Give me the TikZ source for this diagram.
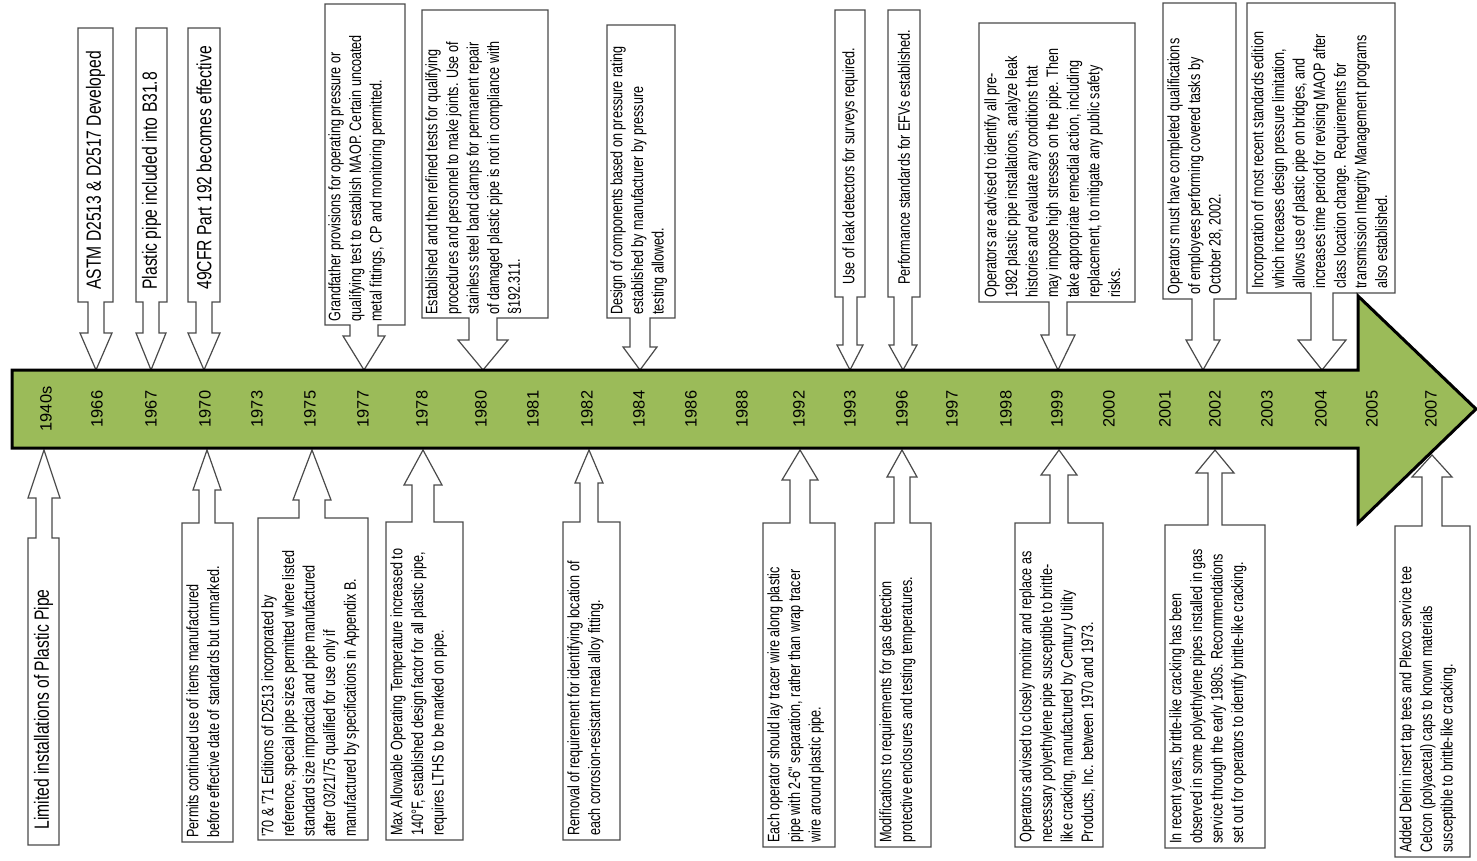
\documentclass[tikz,border=0pt]{standalone}
\usepackage{fontspec}
\setmainfont{Liberation Sans}
\newfontfamily\narrowfont{Liberation Sans}[FakeStretch=0.76]
\usepackage{xcolor}
\definecolor{Olive}{HTML}{9BBB59}
\definecolor{Rim}{HTML}{4A4A4A}
\tikzset{
  callout/.style={draw=Rim,fill=white,line width=0.6pt},
  note/.style={font=\narrowfont\fontsize{8.3}{10.3}\selectfont,rotate=90,
    anchor=north west,align=left,inner sep=0pt},
  onenote/.style={note,anchor=west},
  bignote/.style={font=\narrowfont\fontsize{10.3}{12}\selectfont,rotate=90,
    anchor=west,inner sep=0pt},
  year/.style={font=\fontsize{8.2}{10}\selectfont,rotate=90,inner sep=0pt},
  timebar/.style={fill=Olive,draw=black,line width=1.5pt}
}
\begin{document}
\begin{tikzpicture}[x=0.5pt,y=-0.5pt]
  \useasboundingbox (0,0) rectangle (1477,861);
  \def\ytop{370}
  \foreach \yr/\xl/\xr/\yt/\yb/\xt/\sw/\hw/\yh in {
      1966/78/113/28/302/96/8/16/333,
      1967/136/167/28/302/151/8/15/333,
      1970/188/220/28/302/204/8/16/333,
      1977/325/405/4/325/364/14/21/336,
      1980/422/548/10/318/483/14/25/340,
      1984/607/675/25/318/640/10/17/347,
      1993/835/865/10/297/850/7/13/345,
      1996/888/920/10/297/903/9/14/345,
      1999/979/1135/23/302/1058/9/17/335,
      2002/1163/1236/3/299/1203/11/17/340,
      2004/1247/1395/3/293/1322/11/24/340}{
    \filldraw[callout] (\xl,\yt) -- (\xr,\yt) -- (\xr,\yb) -- (\xt+\sw,\yb)
      -- (\xt+\sw,\yh) -- (\xt+\hw,\yh) -- (\xt,\ytop) -- (\xt-\hw,\yh)
      -- (\xt-\sw,\yh) -- (\xt-\sw,\yb) -- (\xl,\yb) -- cycle;
    \coordinate (top\yr) at (\xl,\yb);
    \coordinate (topmid\yr) at ({(\xl+\xr)/2},\yb);
  }
  \foreach \yr/\xl/\xr/\yt/\yb/\xt/\sw/\hw/\yh/\ytip in {
      1940s/28/59/538/845/44/8/16/498/450,
      1970/182/233/523/842/207/8/14/490/450,
      1975/258/368/518/840/312/13/19/500/450,
      1978/386/463/522/840/423/11/19/485/450,
      1982/563/620/522/840/589/9/14/483/450,
      1992/763/835/523/847/800/10/18/480/450,
      1996/875/931/523/847/902/8/15/477/450,
      1999/1015/1103/523/847/1059/9/18/475/450,
      2002/1165/1265/525/848/1215/7/19/473/450,
      2007/1395/1470/526/857/1432/10/20/477/455}{
    \filldraw[callout] (\xl,\yb) -- (\xl,\yt) -- (\xt-\sw,\yt) -- (\xt-\sw,\yh)
      -- (\xt-\hw,\yh) -- (\xt,\ytip) -- (\xt+\hw,\yh) -- (\xt+\sw,\yh)
      -- (\xt+\sw,\yt) -- (\xr,\yt) -- (\xr,\yb) -- cycle;
    \coordinate (bot\yr) at (\xl,\yb);
    \coordinate (botmid\yr) at ({(\xl+\xr)/2},\yb);
  }
  \filldraw[timebar] (12,370) -- (1358,370) -- (1358,296) -- (1476,409)
    -- (1358,523) -- (1358,448) -- (12,448) -- cycle;
  \foreach \yr/\x in {1940s/46,1966/97,1967/151,1970/205,1973/257,1975/310,
      1977/363,1978/422,1980/481,1981/533,1982/587,1984/639,1986/691,
      1988/742,1992/799,1993/850,1996/902,1997/952,1998/1006,1999/1057,
      2000/1109,2001/1165,2002/1215,2003/1267,2004/1321,2005/1372,2007/1431}
    \node[year] (y\yr) at (\x,409) {\yr};

  \node[bignote] (t1966) at ([shift={(0,-12)}]topmid1966) {ASTM D2513 \& D2517 Developed};
  \node[bignote] (t1967) at ([shift={(0,-12)}]topmid1967) {Plastic pipe included into B31.8};
  \node[bignote] (t1970) at ([shift={(0,-12)}]topmid1970) {49CFR Part 192 becomes effective};
  \node[note] (t1977) at ([shift={(3,-3)}]top1977) {Grandfather provisions for operating pressure or\\
    qualifying test to establish MAOP. Certain uncoated\\metal fittings, CP and monitoring permitted.};
  \node[note] (t1980) at ([shift={(3,-3)}]top1980) {Established and then refined tests for qualifying\\
    procedures and personnel to make joints. Use of\\stainless steel band clamps for permanent repair\\
    of damaged plastic pipe is not in compliance with\\§192.311.};
  \node[note] (t1984) at ([shift={(3,-3)}]top1984) {Design of components based on pressure rating\\
    established by manufacturer by pressure\\testing allowed.};
  \node[onenote] (t1993) at ([shift={(0,-12)}]topmid1993) {Use of leak detectors for surveys required.};
  \node[onenote] (t1996) at ([shift={(0,-12)}]topmid1996) {Performance standards for EFVs established.};
  \node[note] (t1999) at ([shift={(5,-4)}]top1999) {Operators are advised to identify all pre-\\
    1982 plastic pipe installations, analyze leak\\histories and evaluate any conditions that\\
    may impose high stresses on the pipe. Then\\take appropriate remedial action, including\\
    replacement, to mitigate any public safety\\risks.};
  \node[note] (t2002) at ([shift={(4,-4)}]top2002) {Operators must have completed qualifications\\
    of employees performing covered tasks by\\October 28, 2002.};
  \node[note] (t2004) at ([shift={(4,-4)}]top2004) {Incorporation of most recent standards edition\\
    which increases design pressure limitation,\\allows use of plastic pipe on bridges, and\\
    increases time period for revising MAOP after\\class location change. Requirements for\\
    transmission Integrity Management programs\\also established.};

  \node[bignote] (b1940s) at ([shift={(0,-15)}]botmid1940s) {Limited installations of Plastic Pipe};
  \node[note] (b1970) at ([shift={(4,-4)}]bot1970) {Permits continued use of items manufactured\\
    before effective date of standards but unmarked.};
  \node[note] (b1975) at ([shift={(3,-3)}]bot1975) {'70 \& '71 Editions of D2513 incorporated by\\
    reference, special pipe sizes permitted where listed\\standard size impractical and pipe manufactured\\
    after 03/21/75 qualified for use only if\\manufactured by specifications in Appendix B.};
  \node[note] (b1978) at ([shift={(4,-4)}]bot1978) {Max Allowable Operating Temperature increased to\\
    140°F, established design factor for all plastic pipe,\\requires LTHS to be marked on pipe.};
  \node[note] (b1982) at ([shift={(4,-4)}]bot1982) {Removal of requirement for identifying location of\\
    each corrosion-resistant metal alloy fitting.};
  \node[note] (b1992) at ([shift={(4,-4)}]bot1992) {Each operator should lay tracer wire along plastic\\
    pipe with 2-6" separation, rather than wrap tracer\\wire around plastic pipe.};
  \node[note] (b1996) at ([shift={(4,-4)}]bot1996) {Modifications to requirements for gas detection\\
    protective enclosures and testing temperatures.};
  \node[note] (b1999) at ([shift={(4,-4)}]bot1999) {Operators advised to closely monitor and replace as\\
    necessary polyethylene pipe susceptible to brittle-\\like cracking, manufactured by Century Utility\\
    Products, Inc. between 1970 and 1973.};
  \node[note] (b2002) at ([shift={(4,-4)}]bot2002) {In recent years, brittle-like cracking has been\\
    observed in some polyethylene pipes installed in gas\\service through the early 1980s. Recommendations\\
    set out for operators to identify brittle-like cracking.};
  \node[note] (b2007) at ([shift={(4,-4)}]bot2007) {Added Delrin insert tap tees and Plexco service tee\\
    Celcon (polyacetal) caps to known materials\\susceptible to brittle-like cracking.};
\end{tikzpicture}
\end{document}
